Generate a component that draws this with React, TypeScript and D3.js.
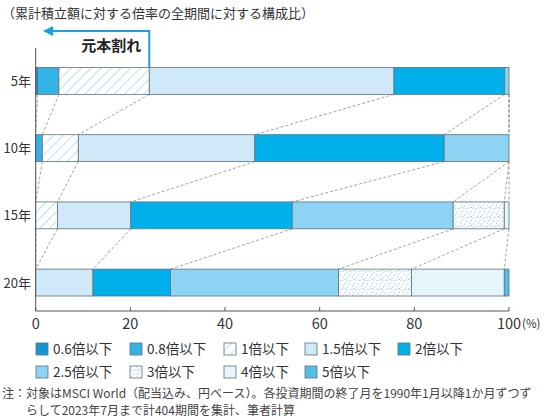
import React, { useEffect, useRef } from 'react';
import * as d3 from 'd3';

const periods = ['5年', '10年', '15年', '20年'];
const categories = ['0.6倍以下', '0.8倍以下', '1倍以下', '1.5倍以下', '2倍以下', '2.5倍以下', '3倍以下', '4倍以下', '5倍以下'];

// share (%) of each multiple band, per period
const share5 = [0.4, 4.5, 19.1, 51.7, 23.4, 0.9, 0, 0, 0];
const share10 = [0, 1.4, 7.6, 37.3, 40.0, 13.7, 0, 0, 0];
const share15 = [0, 0, 4.6, 15.5, 34.1, 34.0, 10.8, 1.0, 0];
const share20 = [0, 0, 0, 12.1, 16.4, 35.5, 15.4, 19.6, 1.0];
const shares = [share5, share10, share15, share20];

const xTicks = [0, 20, 40, 60, 80, 100];

const fills = [
  '#1496d4',
  '#35b2e7',
  'url(#hatch)',
  '#cfe9f8',
  '#00b0ea',
  '#8ed3f4',
  'url(#dots)',
  '#e6f4fc',
  '#55bde9',
];

const FONT = '"Noto Sans CJK JP", "Noto Sans", sans-serif';

export default function App() {
  const gRef = useRef<SVGGElement>(null);

  useEffect(() => {
    document.body.style.margin = '0';
    if (!gRef.current) return;
    const root = d3.select(gRef.current);
    root.selectAll('*').remove();

    // patterns
    const defs = root.append('defs');
    const hatch = defs
      .append('pattern')
      .attr('id', 'hatch')
      .attr('patternUnits', 'userSpaceOnUse')
      .attr('width', 7)
      .attr('height', 7)
      .attr('patternTransform', 'rotate(45)');
    hatch.append('rect').attr('width', 7).attr('height', 7).attr('fill', '#fff');
    hatch.append('line').attr('x1', 0).attr('x2', 0).attr('y1', 0).attr('y2', 7).attr('stroke', '#7ec9ec').attr('stroke-width', 1.1);

    const dots = defs
      .append('pattern')
      .attr('id', 'dots')
      .attr('patternUnits', 'userSpaceOnUse')
      .attr('width', 9)
      .attr('height', 9);
    dots.append('rect').attr('width', 9).attr('height', 9).attr('fill', '#fbfdfe');
    [[1, 1], [5, 2], [3, 4.5], [7.5, 5], [1.5, 7], [5.5, 8], [8, 1.5], [3.5, 0.5]].forEach(([cx, cy]) => {
      dots.append('circle').attr('cx', cx).attr('cy', cy).attr('r', 0.55).attr('fill', '#7fb9d6');
    });

    const x = d3.scaleLinear().domain([0, 100]).range([35.7, 509]);
    const y = d3
      .scaleBand()
      .domain(periods)
      .range([48, 315.5])
      .paddingInner(0.6)
      .paddingOuter(0.29);

    // cumulative stacks
    const stacks = shares.map((row) => {
      let acc = 0;
      return row.map((v) => {
        const s = acc;
        acc += v;
        return [s, acc];
      });
    });

    // dashed connectors between consecutive bars
    const conn = root.append('g');
    for (let p = 0; p < periods.length - 1; p++) {
      for (let c = 0; c < categories.length - 1; c++) {
        const a = stacks[p][c][1];
        const b = stacks[p + 1][c][1];
        conn
          .append('line')
          .attr('x1', x(Math.min(a, 100)))
          .attr('y1', y(periods[p])! + y.bandwidth())
          .attr('x2', x(Math.min(b, 100)))
          .attr('y2', y(periods[p + 1])!)
          .attr('stroke', '#9a9a9a')
          .attr('stroke-width', 0.9)
          .attr('stroke-dasharray', '3,2');
      }
    }

    // bars
    periods.forEach((per, p) => {
      const g = root.append('g');
      g.selectAll('rect')
        .data(stacks[p].map((s, c) => ({ s, c })).filter((d) => d.s[1] - d.s[0] > 0))
        .enter()
        .append('rect')
        .attr('x', (d) => x(d.s[0]))
        .attr('y', y(per)!)
        .attr('width', (d) => x(d.s[1]) - x(d.s[0]))
        .attr('height', y.bandwidth())
        .attr('fill', (d) => fills[d.c])
        .attr('stroke', '#5f727c')
        .attr('stroke-width', 0.8);
    });

    // axes
    const axisCol = '#555';
    root.append('line').attr('x1', x(0)).attr('x2', x(0)).attr('y1', 48).attr('y2', 311).attr('stroke', axisCol).attr('stroke-width', 1);
    root.append('line').attr('x1', x(0)).attr('x2', x(100)).attr('y1', 311).attr('y2', 311).attr('stroke', axisCol).attr('stroke-width', 1);
    root
      .append('g')
      .selectAll('line')
      .data(xTicks)
      .enter()
      .append('line')
      .attr('x1', (d) => x(d))
      .attr('x2', (d) => x(d))
      .attr('y1', 307)
      .attr('y2', 311)
      .attr('stroke', axisCol);
    root
      .append('g')
      .selectAll('text')
      .data(xTicks)
      .enter()
      .append('text')
      .attr('x', (d) => x(d))
      .attr('y', 329)
      .attr('text-anchor', 'middle')
      .attr('font-size', 14.5)
      .attr('fill', '#333')
      .attr('font-family', FONT)
      .text((d) => String(d));
    root
      .append('text')
      .attr('x', x(100) + 13)
      .attr('y', 328)
      .attr('font-size', 11.5)
      .attr('fill', '#333')
      .attr('font-family', FONT)
      .text('(%)');

    root
      .append('g')
      .selectAll('text')
      .data(periods)
      .enter()
      .append('text')
      .attr('x', 31)
      .attr('y', (d) => y(d)! + y.bandwidth() / 2 + 5)
      .attr('text-anchor', 'end')
      .attr('font-size', 13)
      .attr('fill', '#333')
      .attr('font-family', FONT)
      .text((d) => d);

    // 元本割れ arrow at the 1x boundary of the first bar
    const bx = x(stacks[0][2][1]);
    const arrowCol = '#1ba1dc';
    root
      .append('path')
      .attr('d', `M${bx},${y(periods[0])!} V31 H50`)
      .attr('fill', 'none')
      .attr('stroke', arrowCol)
      .attr('stroke-width', 2);
    root.append('path').attr('d', 'M43,31 L53,26 L53,36 Z').attr('fill', arrowCol);
    root
      .append('text')
      .attr('x', bx - 8)
      .attr('y', 51)
      .attr('text-anchor', 'end')
      .attr('font-size', 15)
      .attr('font-weight', 'bold')
      .attr('fill', '#222')
      .attr('font-family', FONT)
      .text('元本割れ');

    // legend
    const cols = [36, 130, 224, 305, 398];
    const leg = root.append('g');
    categories.forEach((c, i) => {
      const row = i < 5 ? 0 : 1;
      const col = i < 5 ? i : i - 5;
      const gx = cols[col];
      const gy = row === 0 ? 343 : 366;
      leg
        .append('rect')
        .attr('x', gx)
        .attr('y', gy)
        .attr('width', 12)
        .attr('height', 12)
        .attr('fill', fills[i])
        .attr('stroke', '#5f727c')
        .attr('stroke-width', 0.8);
      leg
        .append('text')
        .attr('x', gx + 17)
        .attr('y', gy + 11)
        .attr('font-size', 13.5)
        .attr('fill', '#333')
        .attr('font-family', FONT)
        .text(c);
    });
  }, []);

  return (
    <svg width={550} height={420} style={{ display: 'block', background: '#fff' }}>
      <text x={2} y={18} fontSize={13} fill="#333" fontFamily={FONT}>
        （累計積立額に対する倍率の全期間に対する構成比）
      </text>
      <g ref={gRef} />
      <text x={2} y={398} fontSize={12} fill="#444" fontFamily={FONT}>
        注：対象はMSCI World（配当込み、円ベース）。各投資期間の終了月を1990年1月以降1か月ずつず
      </text>
      <text x={26} y={415} fontSize={12} fill="#444" fontFamily={FONT}>
        らして2023年7月まで計404期間を集計、筆者計算
      </text>
    </svg>
  );
}
